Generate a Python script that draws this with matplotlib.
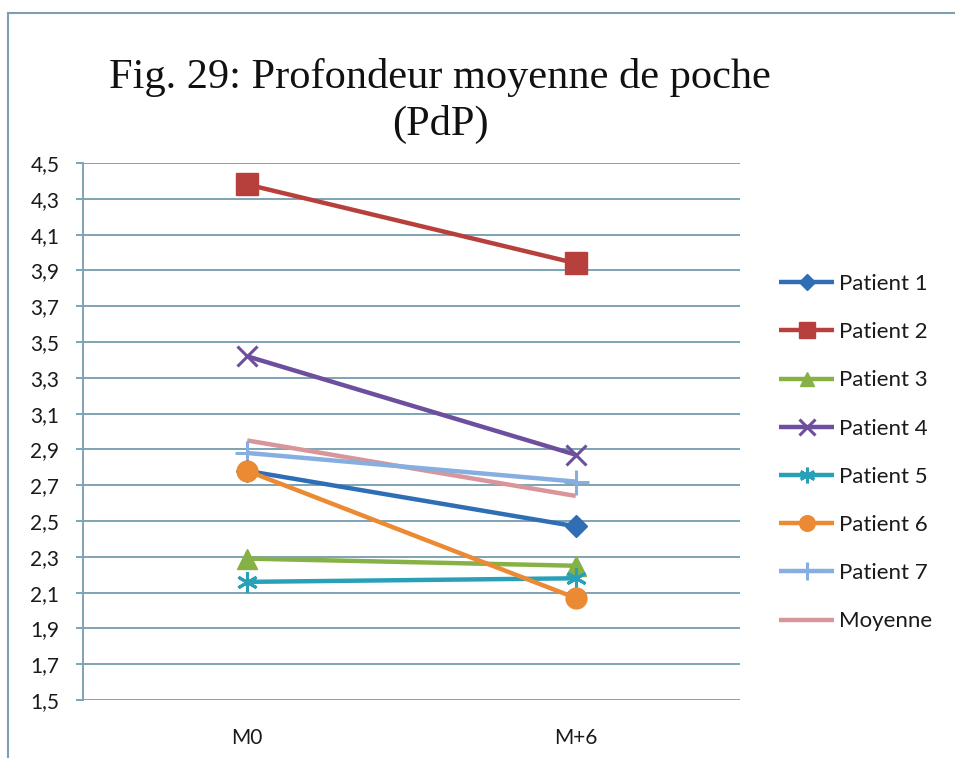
import matplotlib
matplotlib.use("Agg")
import matplotlib.pyplot as plt
from matplotlib.lines import Line2D
from matplotlib.ticker import FuncFormatter

# data
periods = ["M0", "M+6"]
series_names = ["Patient 1", "Patient 2", "Patient 3", "Patient 4",
                "Patient 5", "Patient 6", "Patient 7", "Moyenne"]
patient1 = [2.78, 2.47]
patient2 = [4.38, 3.94]
patient3 = [2.29, 2.25]
patient4 = [3.42, 2.87]
patient5 = [2.16, 2.18]
patient6 = [2.78, 2.07]
patient7 = [2.88, 2.72]
moyenne = [2.95, 2.64]
y_ticks = [1.5, 1.7, 1.9, 2.1, 2.3, 2.5, 2.7, 2.9, 3.1, 3.3, 3.5, 3.7,
           3.9, 4.1, 4.3, 4.5]

values = [patient1, patient2, patient3, patient4,
          patient5, patient6, patient7, moyenne]
colors = ["#2f6db5", "#b8403c", "#86b144", "#6e4f9e",
          "#2aa0b8", "#ec8a34", "#86aee0", "#d9959a"]
markers = ["D", "s", "^", "x", (6, 2, 0), "o", "+", None]
msizes = [11, 16, 14, 15, 15, 15, 18, 0]

grid_col = "#7ea3b6"
txt_font = ["Lato", "DejaVu Sans"]

fig = plt.figure(figsize=(9.55, 7.6), dpi=100)
ax = fig.add_axes([83 / 955, 1 - 700 / 760, (740 - 83) / 955, (700 - 163) / 760])

xs = list(range(len(periods)))
# draw order: moyenne and patient 7 behind the others
order = [7, 6, 0, 1, 2, 3, 4, 5]
handles = {}
for i in order:
    mk = markers[i]
    thin = mk in ("x", "+", (6, 2, 0))
    h, = ax.plot(xs, values[i], color=colors[i], lw=3.2, marker=mk,
                 markersize=msizes[i], markeredgewidth=2.2 if thin else 1,
                 markeredgecolor=colors[i], label=series_names[i],
                 solid_capstyle="butt", zorder=3)
    handles[i] = h

ax.set_xlim(-0.5, 1.5)
ax.set_ylim(1.5, 4.5)
ax.set_yticks(y_ticks)
ax.yaxis.set_major_formatter(FuncFormatter(lambda v, p: f"{v:.1f}".replace(".", ",")))
ax.set_xticks(xs)
ax.set_xticklabels(periods)
ax.grid(axis="y", color=grid_col, lw=1.4)
ax.set_axisbelow(True)
for s in ["top", "right", "bottom"]:
    ax.spines[s].set_visible(False)
ax.spines["left"].set_color(grid_col)
ax.spines["left"].set_linewidth(1.4)

for lab in ax.get_yticklabels() + ax.get_xticklabels():
    lab.set_fontfamily(txt_font)
    lab.set_fontsize(15)
    lab.set_color("#1a1a1a")
ax.tick_params(axis="y", length=5, color=grid_col, width=1.4, pad=12)
ax.tick_params(axis="x", length=0, pad=20)

fig.text(440 / 955, 1 - 101 / 760, "Fig. 29: Profondeur moyenne de poche\n(PdP)",
         ha="center", va="center", fontsize=30.5, family="Liberation Serif",
         linespacing=1.28, color="#111111")

leg = ax.legend([handles[i] for i in range(8)], series_names,
                loc="upper left", bbox_to_anchor=(770 / 955, 1 - 265 / 760),
                bbox_transform=fig.transFigure, frameon=False,
                prop={"family": txt_font, "size": 16},
                handlelength=2.5, handletextpad=0.2, labelspacing=1.27,
                borderaxespad=0, markerscale=0.75)
for t in leg.get_texts():
    t.set_color("#1a1a1a")

# chart outer frame (top and left edges visible)
fig.add_artist(Line2D([8 / 955, 1], [1 - 13 / 760, 1 - 13 / 760],
                      transform=fig.transFigure, color="#7f9fb0", lw=1.5))
fig.add_artist(Line2D([8 / 955, 8 / 955], [1 - 13 / 760, 1 - 757 / 760],
                      transform=fig.transFigure, color="#7f9fb0", lw=1.5))

fig.savefig("out.png", dpi=100)
